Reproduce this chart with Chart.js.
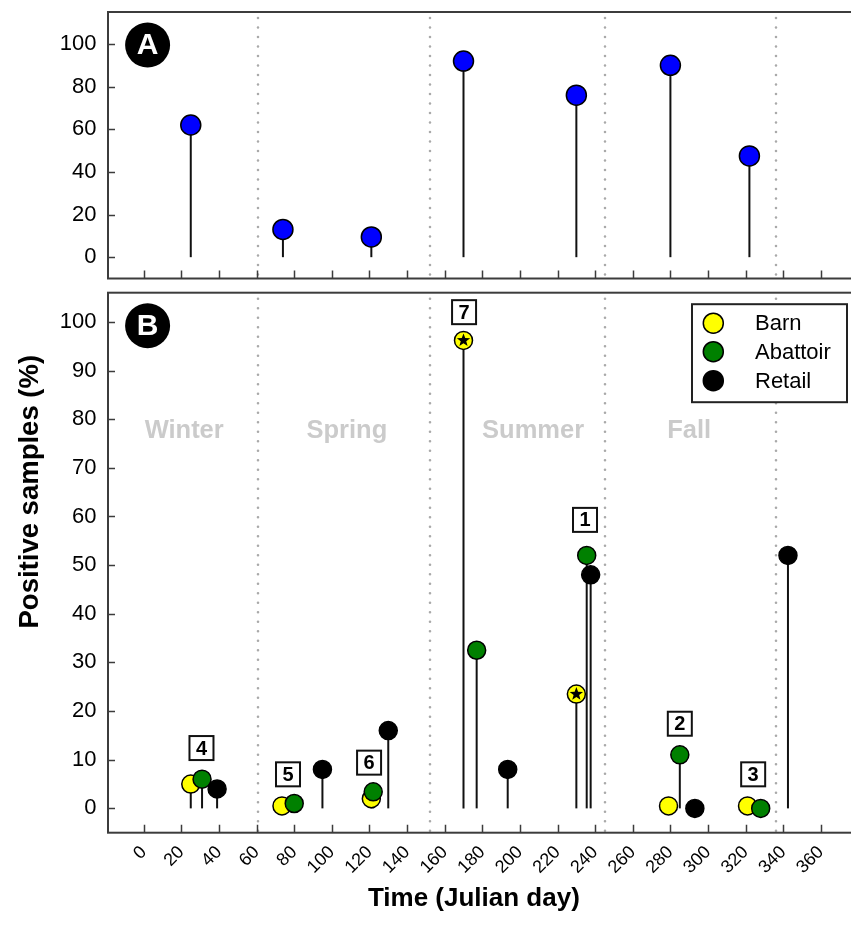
<!DOCTYPE html>
<html>
<head>
<meta charset="utf-8">
<title>Positive samples by Julian day</title>
<script src="https://cdn.jsdelivr.net/npm/chart.js@4.4.1/dist/chart.umd.min.js"></script>
<style>
  html, body { margin: 0; padding: 0; background: #fff; }
  #wrap { position: relative; width: 851px; height: 940px; overflow: hidden; }
  #chartA { position: absolute; left: 0; top: 0; }
  #chartB { position: absolute; left: 0; top: 280px; }
</style>
</head>
<body>
<div id="wrap">
  <canvas id="chartA" width="880" height="290"></canvas>
  <canvas id="chartB" width="880" height="660"></canvas>
</div>
<script>
// ---- data -------------------------------------------------------------
const dayTicks = [0, 20, 40, 60, 80, 100, 120, 140, 160, 180, 200, 220, 240, 260, 280, 300, 320, 340, 360];
const seasonBounds = [61, 152, 245, 336];
const seasonNames = ['Winter', 'Spring', 'Summer', 'Fall'];
const seasonLabelDays = [21.5, 108, 207, 290];
const seasonLabelLevel = 77.5;

// Panel A: overall positive samples per sampling event
const overallDays = [25, 74, 121, 170, 230, 280, 322];
const overallPct = [62, 13, 9.5, 92, 76, 90, 47.5];
const overallTicks = [0, 20, 40, 60, 80, 100];

// Panel B: positive samples by source
const barnDays = [25, 73.5, 121, 170, 230, 279, 321];
const barnPct = [5, 0.5, 2, 96.2, 23.5, 0.5, 0.5];
const barnStarred = [false, false, false, true, true, false, false];
const abattoirDays = [31, 80, 122, 177, 235.5, 285, 328];
const abattoirPct = [6, 1, 3.4, 32.5, 52, 11, 0];
const retailDays = [39, 95, 130, 193.5, 237.6, 293, 342.5];
const retailPct = [4, 8, 16, 8, 48, 0, 52];
const sourceTicks = [0, 10, 20, 30, 40, 50, 60, 70, 80, 90, 100];

// numbered event tags
const eventIds = ['1', '2', '3', '4', '5', '6', '7'];
const eventDays = [234.6, 285, 324, 30.7, 76.7, 119.8, 170.3];
const eventLevels = [59.3, 17.4, 7, 12.4, 7, 9.4, 102];

const legendNames = ['Barn', 'Abattoir', 'Retail'];
const legendColors = ['#ffff00', '#008000', '#000000'];

// ---- helpers ----------------------------------------------------------
const FONT = "'Liberation Sans', Arial, Helvetica, sans-serif";
const FRAME = '#3c3c3c';

function points(xs, ys) { return xs.map((x, i) => ({ x: x, y: ys[i] })); }
function fixedTicks(values) { return scale => { scale.ticks = values.map(v => ({ value: v })); }; }

function xScale(showLabels, axisHeight) {
  return {
    type: 'linear', min: -19, max: 380,
    afterBuildTicks: fixedTicks(dayTicks),
    afterFit: s => { s.height = axisHeight; s.paddingLeft = 0; s.paddingRight = 0; },
    grid: { display: false, drawTicks: false },
    border: { display: false },
    ticks: {
      display: showLabels, autoSkip: false, minRotation: 45, maxRotation: 45,
      padding: 9, color: '#000', font: { family: FONT, size: 18 }
    }
  };
}
function yScale(min, max, ticks) {
  return {
    type: 'linear', min: min, max: max,
    afterBuildTicks: fixedTicks(ticks),
    afterFit: s => { s.width = 108; s.paddingTop = 0; s.paddingBottom = 0; },
    grid: { display: false, drawTicks: false },
    border: { display: false },
    ticks: { padding: 11.5, color: '#000', font: { family: FONT, size: 22 } }
  };
}

function drawStar(ctx, cx, cy, ro, ri) {
  ctx.beginPath();
  for (let k = 0; k < 10; k++) {
    const r = k % 2 === 0 ? ro : ri;
    const a = -Math.PI / 2 + k * Math.PI / 5;
    const px = cx + r * Math.cos(a), py = cy + r * Math.sin(a);
    if (k === 0) ctx.moveTo(px, py); else ctx.lineTo(px, py);
  }
  ctx.closePath();
  ctx.fillStyle = '#000';
  ctx.fill();
}

// Panel decorations: season dividers, stems, frame with inner ticks, badges, tags, legend
const panelPlugin = {
  id: 'panel',
  beforeDatasetsDraw(chart, args, opts) {
    const ctx = chart.ctx, area = chart.chartArea;
    const xs = chart.scales.x, ys = chart.scales.y;
    ctx.save();
    // dotted season dividers
    ctx.strokeStyle = '#a9a9a9';
    ctx.lineWidth = 2.6;
    ctx.lineCap = 'round';
    ctx.setLineDash([0, 9.5]);
    seasonBounds.forEach(d => {
      const px = Math.round(xs.getPixelForValue(d));
      ctx.beginPath();
      ctx.moveTo(px, area.top + 6);
      ctx.lineTo(px, area.bottom);
      ctx.stroke();
    });
    ctx.setLineDash([]);
    ctx.lineCap = 'butt';
    // season names
    if (opts.seasons) {
      ctx.fillStyle = '#cbcbcb';
      ctx.font = 'bold 25.5px ' + FONT;
      ctx.textAlign = 'center';
      ctx.textBaseline = 'middle';
      seasonNames.forEach((n, i) => {
        ctx.fillText(n, xs.getPixelForValue(seasonLabelDays[i]), ys.getPixelForValue(seasonLabelLevel));
      });
    }
    // stems from zero up to each point
    const base = ys.getPixelForValue(0);
    ctx.strokeStyle = '#111';
    ctx.lineWidth = 2;
    chart.data.datasets.forEach((ds, di) => {
      chart.getDatasetMeta(di).data.forEach(el => {
        ctx.beginPath();
        ctx.moveTo(el.x, base);
        ctx.lineTo(el.x, el.y);
        ctx.stroke();
      });
    });
    ctx.restore();
  },
  afterDatasetsDraw(chart, args, opts) {
    const ctx = chart.ctx, area = chart.chartArea;
    const xs = chart.scales.x, ys = chart.scales.y;
    ctx.save();
    // stars on flagged barn points
    if (opts.stars) {
      chart.getDatasetMeta(0).data.forEach((el, i) => {
        if (barnStarred[i]) drawStar(ctx, el.x, el.y, 7, 2.9);
      });
    }
    // frame
    ctx.strokeStyle = FRAME;
    ctx.lineWidth = 2;
    ctx.strokeRect(area.left, area.top, area.right - area.left, area.bottom - area.top);
    // inner ticks
    ctx.lineWidth = 1.5;
    ctx.beginPath();
    dayTicks.forEach(v => {
      const px = Math.round(xs.getPixelForValue(v)) + 0.5;
      ctx.moveTo(px, area.bottom);
      ctx.lineTo(px, area.bottom - 8);
    });
    ys.ticks.forEach(t => {
      const py = Math.round(ys.getPixelForValue(t.value)) + 0.5;
      ctx.moveTo(area.left, py);
      ctx.lineTo(area.left + 7, py);
    });
    ctx.stroke();
    // panel badge
    const bx = area.left + 39.6, by = area.top + 33;
    ctx.beginPath();
    ctx.arc(bx, by, 22.5, 0, Math.PI * 2);
    ctx.fillStyle = '#000';
    ctx.fill();
    ctx.fillStyle = '#fff';
    ctx.font = 'bold 30px ' + FONT;
    ctx.textAlign = 'center';
    ctx.textBaseline = 'middle';
    ctx.fillText(opts.badge, bx, by + 1);
    // numbered tags
    if (opts.tags) {
      ctx.font = 'bold 20px ' + FONT;
      eventIds.forEach((id, i) => {
        const cx = xs.getPixelForValue(eventDays[i]);
        const cy = ys.getPixelForValue(eventLevels[i]);
        ctx.fillStyle = '#fff';
        ctx.fillRect(cx - 12, cy - 12, 24, 24);
        ctx.strokeStyle = '#111';
        ctx.lineWidth = 2;
        ctx.strokeRect(cx - 12, cy - 12, 24, 24);
        ctx.fillStyle = '#000';
        ctx.fillText(id, cx, cy + 1);
      });
    }
    // legend
    if (opts.legend) {
      const lx = area.left + 584, ly = area.top + 11.5;
      ctx.fillStyle = '#fff';
      ctx.fillRect(lx, ly, 155, 98);
      ctx.strokeStyle = '#222';
      ctx.lineWidth = 2;
      ctx.strokeRect(lx, ly, 155, 98);
      const rows = [19, 47.5, 76.5];
      ctx.font = '22px ' + FONT;
      ctx.textAlign = 'left';
      legendNames.forEach((n, i) => {
        ctx.beginPath();
        ctx.arc(lx + 21.3, ly + rows[i], 10, 0, Math.PI * 2);
        ctx.fillStyle = legendColors[i];
        ctx.fill();
        ctx.lineWidth = 1.5;
        ctx.strokeStyle = '#000';
        ctx.stroke();
        ctx.fillStyle = '#000';
        ctx.fillText(n, lx + 63, ly + rows[i] + 1);
      });
    }
    // axis titles
    if (opts.titles) {
      ctx.fillStyle = '#000';
      ctx.textAlign = 'center';
      ctx.textBaseline = 'middle';
      ctx.font = 'bold 26px ' + FONT;
      const tx = (area.left + xs.getPixelForValue(370)) / 2;
      ctx.fillText('Time (Julian day)', tx, area.bottom + 66);
      ctx.save();
      ctx.translate(30, area.top + 199);
      ctx.rotate(-Math.PI / 2);
      ctx.font = 'bold 27.5px ' + FONT;
      ctx.fillText('Positive samples (%)', 0, 0);
      ctx.restore();
    }
    ctx.restore();
  }
};

const common = {
  responsive: false,
  animation: false,
  events: [],
  plugins: { legend: { display: false }, tooltip: { enabled: false } }
};

// ---- panel A ----------------------------------------------------------
new Chart(document.getElementById('chartA'), {
  type: 'scatter',
  data: {
    datasets: [{
      label: 'All sources',
      data: points(overallDays, overallPct),
      backgroundColor: '#0000ff', borderColor: '#000', borderWidth: 1.5, pointRadius: 10
    }]
  },
  options: Object.assign({}, common, {
    layout: { padding: { top: 12, right: 21.5, left: 0, bottom: 0 } },
    scales: { x: xScale(false, 9), y: yScale(-10, 115, overallTicks) },
    plugins: Object.assign({}, common.plugins, {
      panel: { badge: 'A', seasons: false, stars: false, tags: false, legend: false, titles: false }
    })
  }),
  plugins: [panelPlugin]
});

// ---- panel B ----------------------------------------------------------
new Chart(document.getElementById('chartB'), {
  type: 'scatter',
  data: {
    datasets: [
      { label: 'Barn', data: points(barnDays, barnPct), order: 3,
        backgroundColor: '#ffff00', borderColor: '#000', borderWidth: 1.5, pointRadius: 9 },
      { label: 'Abattoir', data: points(abattoirDays, abattoirPct), order: 2,
        backgroundColor: '#008000', borderColor: '#000', borderWidth: 1.5, pointRadius: 9 },
      { label: 'Retail', data: points(retailDays, retailPct), order: 1,
        backgroundColor: '#000000', borderColor: '#000', borderWidth: 1.5, pointRadius: 9 }
    ]
  },
  options: Object.assign({}, common, {
    layout: { padding: { top: 12.7, right: 21.5, left: 0, bottom: 0 } },
    scales: { x: xScale(true, 107.3), y: yScale(-5, 106, sourceTicks) },
    plugins: Object.assign({}, common.plugins, {
      panel: { badge: 'B', seasons: true, stars: true, tags: true, legend: true, titles: true }
    })
  }),
  plugins: [panelPlugin]
});
</script>
</body>
</html>
